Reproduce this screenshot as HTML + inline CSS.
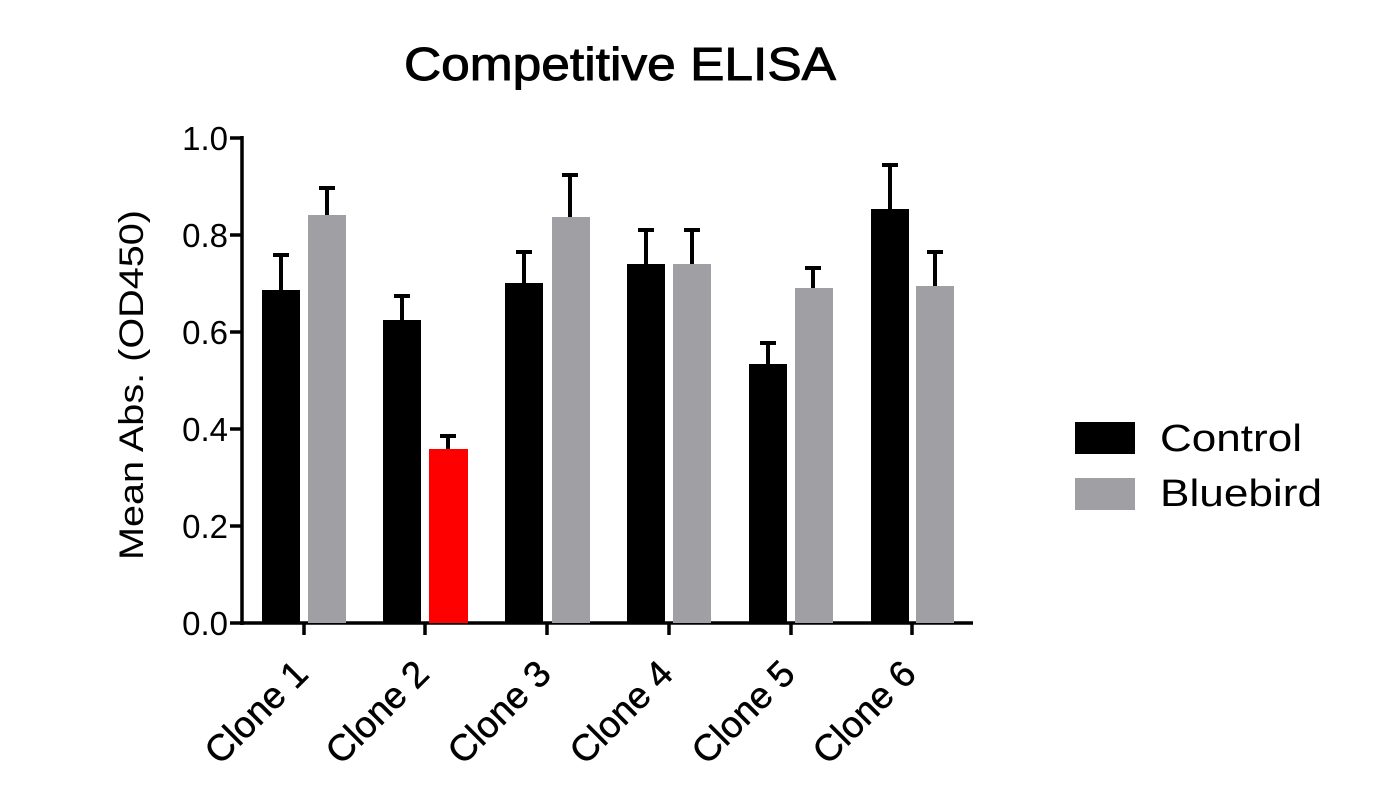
<!DOCTYPE html>
<html><head><style>body{margin:0;background:#fff}svg{display:block}text{font-family:"Liberation Sans",sans-serif;fill:#000}</style></head>
<body>
<svg width="1375" height="800" viewBox="0 0 1375 800">
<text x="620" y="80" font-size="46" text-anchor="middle" stroke="#000" stroke-width="0.9" textLength="432" lengthAdjust="spacingAndGlyphs">Competitive ELISA</text>
<text transform="translate(143,385) rotate(-90)" font-size="34" text-anchor="middle" textLength="350" lengthAdjust="spacingAndGlyphs">Mean Abs. (OD450)</text>
<g font-size="33" text-anchor="end">
<text x="228" y="150">1.0</text><text x="228" y="247">0.8</text><text x="228" y="344">0.6</text>
<text x="228" y="441">0.4</text><text x="228" y="538">0.2</text><text x="228" y="635">0.0</text>
</g>
<g stroke="#000" stroke-width="3.5" fill="none">
<path d="M242,136V625M230,138H242M230,235H242M230,332H242M230,429H242M230,526H242M230,623H242"/>
<path d="M240,623H973M304,623V635M425,623V635M547,623V635M669,623V635M791,623V635M912,623V635"/>
</g>
<g stroke="#000" stroke-width="4">
<path d="M281,290V255M273,255H289"/><path d="M327,215V188M319,188H335"/>
<path d="M402,320V296M394,296H410"/><path d="M448,449V436M440,436H456"/>
<path d="M524,283V252M516,252H532"/><path d="M570,217V175M562,175H578"/>
<path d="M646,264V230M638,230H654"/><path d="M692,264V230M684,230H700"/>
<path d="M768,364V343M760,343H776"/><path d="M813,288V268M805,268H821"/>
<path d="M890,209V165M882,165H898"/><path d="M935,286V252M927,252H943"/>
</g>
<g fill="#000">
<rect x="262" y="290" width="38" height="333"/><rect x="383" y="320" width="38" height="303"/>
<rect x="505" y="283" width="38" height="340"/><rect x="627" y="264" width="38" height="359"/>
<rect x="749" y="364" width="38" height="259"/><rect x="871" y="209" width="38" height="414"/>
</g>
<g fill="#a0a0a4">
<rect x="308" y="215" width="38" height="408"/><rect x="552" y="217" width="38" height="406"/>
<rect x="673" y="264" width="38" height="359"/><rect x="795" y="288" width="38" height="335"/>
<rect x="916" y="286" width="38" height="337"/>
</g>
<rect x="429" y="449" width="39" height="174" fill="#ff0000"/>
<g font-size="37" text-anchor="end" stroke="#000" stroke-width="0.5">
<text transform="translate(310,676) rotate(-45)">Clone 1</text>
<text transform="translate(431,676) rotate(-45)">Clone 2</text>
<text transform="translate(553,676) rotate(-45)">Clone 3</text>
<text transform="translate(675,676) rotate(-45)">Clone 4</text>
<text transform="translate(797,676) rotate(-45)">Clone 5</text>
<text transform="translate(918,676) rotate(-45)">Clone 6</text>
</g>
<rect x="1075" y="422" width="60" height="32" fill="#000"/>
<rect x="1075" y="478" width="60" height="32" fill="#a0a0a4"/>
<text x="1160" y="451" font-size="38" textLength="142" lengthAdjust="spacingAndGlyphs">Control</text>
<text x="1160" y="506" font-size="38" textLength="162" lengthAdjust="spacingAndGlyphs">Bluebird</text>
</svg>
</body></html>
